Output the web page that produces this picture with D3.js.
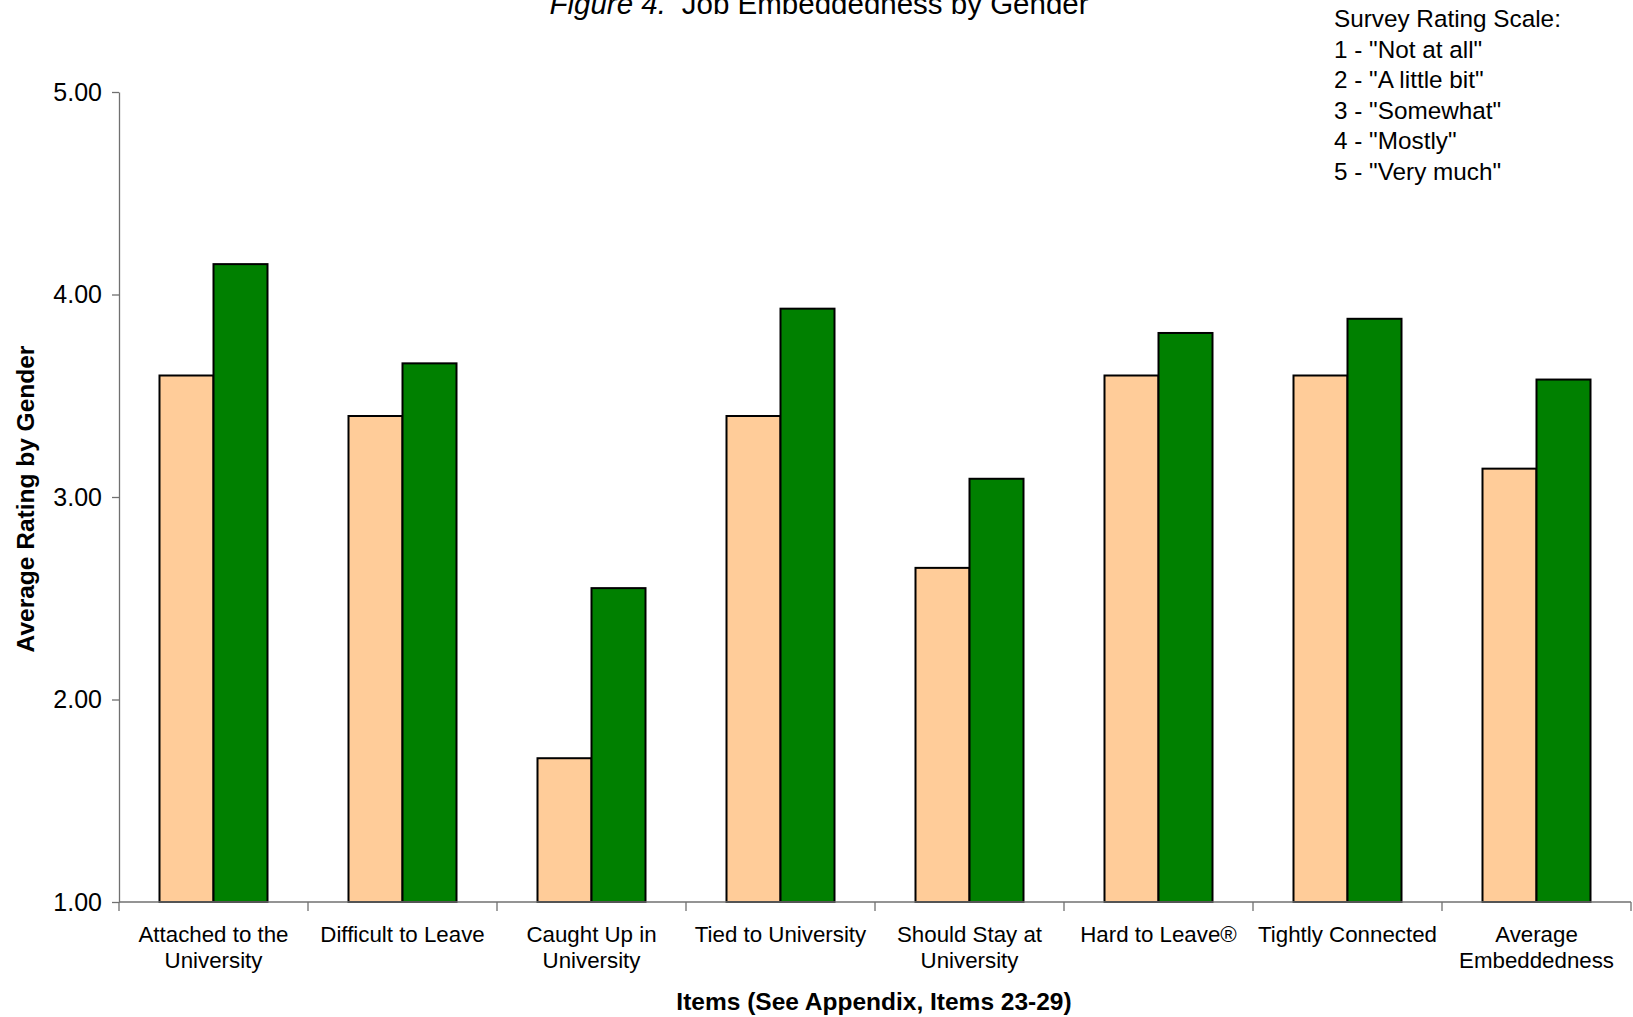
<!DOCTYPE html>
<html>
<head>
<meta charset="utf-8">
<script src="https://cdn.jsdelivr.net/npm/d3@7"></script>
<style>
  html, body { margin: 0; padding: 0; background: #fff; }
  svg { display: block; font-family: "Liberation Sans", Arial, Helvetica, sans-serif; }
</style>
</head>
<body>
<svg id="chart" width="1633" height="1017"></svg>
<script>
// Survey items (x axis) and average ratings for each gender group
const categories = [
  ["Attached to the", "University"],
  ["Difficult to Leave"],
  ["Caught Up in", "University"],
  ["Tied to University"],
  ["Should Stay at", "University"],
  ["Hard to Leave\u00AE"],
  ["Tightly Connected"],
  ["Average", "Embeddedness"]
];
const seriesNames = ["Female", "Male"];
const femaleValues = [3.60, 3.40, 1.71, 3.40, 2.65, 3.60, 3.60, 3.14];
const maleValues   = [4.15, 3.66, 2.55, 3.93, 3.09, 3.81, 3.88, 3.58];
const yTicks = [1, 2, 3, 4, 5];
const scaleLines = [
  "Survey Rating Scale:",
  "1 - \"Not at all\"",
  "2 - \"A little bit\"",
  "3 - \"Somewhat\"",
  "4 - \"Mostly\"",
  "5 - \"Very much\""
];
const colors = ["#FFCC99", "#008000"];

const svg = d3.select("#chart");
const margin = { left: 119, right: 2, top: 92, bottom: 115 };
const W = 1633, H = 1017;
const plotW = W - margin.left - margin.right;
const plotH = H - margin.top - margin.bottom;

const g = svg.append("g").attr("transform", `translate(${margin.left},${margin.top})`);

const x0 = d3.scaleBand().domain(d3.range(categories.length)).range([0, plotW]).padding(0);
const x1 = d3.scaleBand().domain(seriesNames).range([0, x0.bandwidth()])
  .paddingInner(0).paddingOuter(0.75);
const y = d3.scaleLinear().domain([1, 5]).range([plotH, 0]);

const rows = categories.map((c, i) => ({ i, vals: [femaleValues[i], maleValues[i]] }));

// bars
const groups = g.selectAll("g.grp").data(rows).join("g")
  .attr("class", "grp")
  .attr("transform", d => `translate(${x0(d.i)},0)`);
groups.selectAll("rect").data(d => d.vals.map((v, k) => ({ v, k })))
  .join("rect")
  .attr("x", d => x1(seriesNames[d.k]))
  .attr("y", d => y(d.v))
  .attr("width", x1.bandwidth())
  .attr("height", d => y(1) - y(d.v))
  .attr("fill", d => colors[d.k])
  .attr("stroke", "#000")
  .attr("stroke-width", 2);

// y axis
const yAxis = g.append("g")
  .call(d3.axisLeft(y).tickValues(yTicks).tickFormat(d3.format(".2f")).tickSize(7).tickSizeOuter(0).tickPadding(10));
yAxis.select(".domain").attr("stroke", "#707070").attr("stroke-width", 1.3);
yAxis.selectAll(".tick line").attr("stroke", "#707070").attr("stroke-width", 1.3);
yAxis.selectAll(".tick text").attr("font-size", 25).attr("fill", "#000")
  .attr("font-family", "Liberation Sans, Arial, sans-serif");

// x axis line and category boundary ticks
const xAxis = g.append("g").attr("transform", `translate(0,${plotH})`);
xAxis.append("line").attr("x1", 0).attr("x2", plotW).attr("y1", 0).attr("y2", 0)
  .attr("stroke", "#707070").attr("stroke-width", 1.3);
const bounds = d3.range(categories.length).map(i => x0(i)).concat([x0.range()[1]]);
xAxis.selectAll("line.tk").data(bounds).join("line")
  .attr("class", "tk")
  .attr("x1", d => d).attr("x2", d => d)
  .attr("y1", 0).attr("y2", 9)
  .attr("stroke", "#707070").attr("stroke-width", 1.3);

// category labels
const labels = xAxis.selectAll("text.cat").data(categories).join("text")
  .attr("class", "cat")
  .attr("text-anchor", "middle")
  .attr("font-size", 22.3)
  .attr("fill", "#000")
  .attr("transform", (d, i) => `translate(${x0(i) + x0.bandwidth() / 2},40)`);
labels.selectAll("tspan").data(d => d).join("tspan")
  .attr("x", 0)
  .attr("dy", (d, j) => j === 0 ? 0 : 26)
  .text(d => d);

// axis titles
g.append("text")
  .attr("x", plotW / 2 - 1)
  .attr("y", plotH + 108)
  .attr("text-anchor", "middle")
  .attr("font-size", 24.5)
  .attr("font-weight", "bold")
  .text("Items (See Appendix, Items 23-29)");

svg.append("text")
  .attr("transform", `translate(34,${margin.top + plotH / 2 + 2}) rotate(-90)`)
  .attr("text-anchor", "middle")
  .attr("font-size", 24.5)
  .attr("font-weight", "bold")
  .text("Average Rating by Gender");

// chart title
const title = svg.append("text")
  .attr("x", 819)
  .attr("y", 14)
  .attr("text-anchor", "middle")
  .attr("font-size", 29.5);
title.append("tspan").attr("font-style", "italic").text("Figure 4.");
title.append("tspan").attr("dx", 16).text("Job Embeddedness by Gender");

// rating scale note
svg.append("g").selectAll("text").data(scaleLines).join("text")
  .attr("x", 1334)
  .attr("y", (d, i) => 27 + i * 30.6)
  .attr("font-size", 24.3)
  .attr("fill", "#000")
  .text(d => d);
</script>
</body>
</html>
